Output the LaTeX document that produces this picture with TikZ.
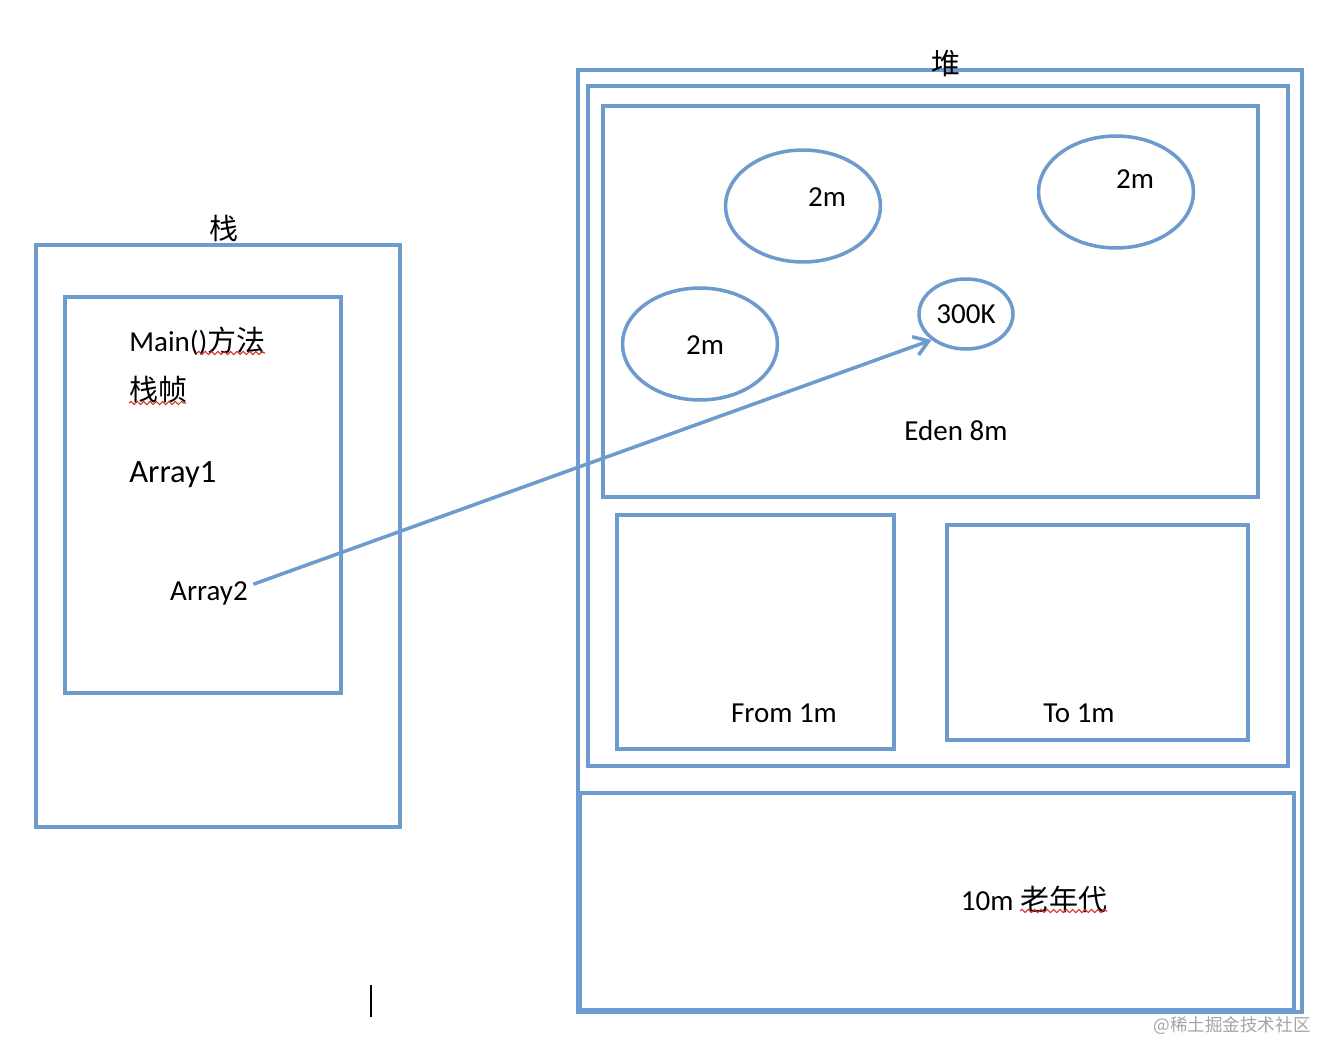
\documentclass[tikz,border=0pt]{standalone}
\usepackage{fontspec}
\setmainfont{Carlito}
\newfontfamily\cjk{Noto Sans CJK SC}
\usepackage{tikz}
\usetikzlibrary{shapes,arrows.meta,positioning,decorations.pathmorphing}
\definecolor{wordblue}{RGB}{110,155,206}
\definecolor{spellred}{RGB}{214,48,40}
\definecolor{markgray}{RGB}{165,165,165}

\tikzset{
  region/.style={draw=wordblue, line width=2pt},
  bubble/.style={ellipse, draw=wordblue, line width=2pt, inner sep=0pt},
  txt/.style={inner sep=0pt, font=\fontsize{16.5}{19}\selectfont},
  squiggle/.style={draw=spellred, line width=0.6pt, decorate, decoration={snake, amplitude=0.9pt, segment length=3.6pt}}
}

\begin{document}
\begin{tikzpicture}[x=0.02cm, y=-0.02cm, >={Straight Barb[length=8pt,width=11pt]}]
    \useasboundingbox[fill=white] (0,0) rectangle (1340,1064);

    % Left: stack with the frame of Main()
    \draw[region] (36,245) rectangle (400,827);
    \draw[region] (65,297) rectangle (341,693);
    \node[txt] (STACK) at (224,228) {\cjk 栈};
    \node[txt, anchor=west] (MAIN) at (129,341) {Main(){\cjk 方法}};
    \node[txt, anchor=west] (FRAME) at (129,390) {\cjk 栈帧};
    \node[txt, anchor=west, font=\fontsize{18.5}{22}\selectfont] (ARR1) at (129,475) {Array1};
    \node[txt] (ARR2) at (209,593) {Array2};
    \draw[squiggle] (197,353) -- (265,353);
    \draw[squiggle] (129,403) -- (186,403);

    % Right: heap, young generation
    \draw[region] (578,70) rectangle (1302,1012);
    \draw[region] (588,86) rectangle (1288,766);
    \node[txt] (HEAP) at (946,64) {\cjk 堆};

    \draw[region] (603,106) rectangle (1258,497);
    \node[bubble, minimum width=3.1cm, minimum height=2.24cm] (E_ONE) at (803,206) {};
    \node[bubble, minimum width=3.1cm, minimum height=2.24cm] (E_TWO) at (1116,192) {};
    \node[bubble, minimum width=3.1cm, minimum height=2.24cm] (E_THREE) at (700,344) {};
    \node[bubble, minimum width=1.88cm, minimum height=1.4cm, font=\fontsize{16.5}{19}\selectfont] (K300) at (966,314) {300K};
    \node[txt] (L_ONE) at (827,197) {2m};
    \node[txt] (L_TWO) at (1135,179) {2m};
    \node[txt] (L_THREE) at (705,345) {2m};
    \node[txt] (EDEN) at (956,431) {Eden 8m};

    \draw[region] (617,515) rectangle (894,749);
    \draw[region] (947,525) rectangle (1248,740);
    \node[txt] (FROM) at (784,713) {From 1m};
    \node[txt] (TO) at (1079,713) {To 1m};

    % Old generation
    \draw[region] (580,793) rectangle (1294,1010);
    \node[txt] (OLD) at (1034,899) {10m {\cjk 老年代}};
    \draw[squiggle] (1020,911) -- (1107,911);

    % Reference from Array2 into the heap
    \draw[->, wordblue, line width=2pt] ([xshift=3pt, yshift=5pt]ARR2.east) -- (K300.south west);

    % Cursor and mark
    \draw[black, line width=0.8pt] (371,985) -- (371,1017);
    \node[inner sep=0pt, text=markgray, font=\cjk\fontsize{10}{12}\selectfont] (MARK) at (1232,1026) {@稀土掘金技术社区};
\end{tikzpicture}
\end{document}
